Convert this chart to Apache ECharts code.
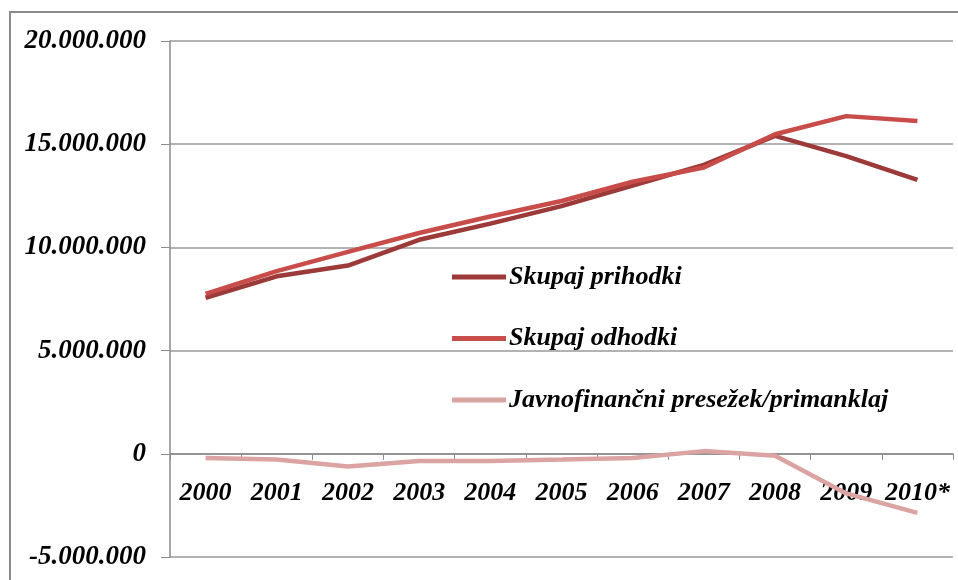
<!DOCTYPE html>
<html>
<head>
<meta charset="utf-8">
<script src="https://cdn.jsdelivr.net/npm/echarts@6/dist/echarts.min.js"></script>
<style>
html,body{margin:0;padding:0;background:#fff;}
#chart{width:958px;height:580px;}
</style>
</head>
<body>
<div id="chart"></div>
<script>
const categories = ['2000','2001','2002','2003','2004','2005','2006','2007','2008','2009','2010*'];
const prihodki = [7560000, 8600000, 9120000, 10370000, 11150000, 12000000, 13000000, 14000000, 15400000, 14420000, 13270000];
const odhodki  = [7750000, 8850000, 9780000, 10700000, 11500000, 12250000, 13180000, 13870000, 15480000, 16360000, 16120000];
const saldo    = [-200000, -280000, -620000, -350000, -350000, -280000, -200000, 130000, -100000, -1920000, -2860000];
const seriesNames = ['Skupaj prihodki', 'Skupaj odhodki', 'Javnofinančni presežek/primanklaj'];

const FONT = '"Liberation Serif", "Times New Roman", serif';
const chart = echarts.init(document.getElementById('chart'));

function fmt(v){
  const neg = v < 0;
  let s = String(Math.abs(v)).replace(/\B(?=(\d{3})+(?!\d))/g, '.');
  return (neg ? '-' : '') + s;
}

chart.setOption({
  animation: false,
  backgroundColor: '#fff',
  graphic: [{
    type: 'rect',
    shape: { x: 10, y: 12, width: 960, height: 590 },
    style: { fill: 'none', stroke: '#8a8a8a', lineWidth: 2 },
    silent: true
  }],
  grid: { left: 170, right: 5, top: 41, bottom: 23, containLabel: false, outerBoundsMode: 'none' },
  legend: {
    orient: 'vertical',
    left: 447,
    top: 259,
    itemGap: 35.5,
    itemWidth: 54,
    itemHeight: 5,
    icon: 'rect',
    data: seriesNames,
    textStyle: { fontFamily: FONT, fontStyle: 'italic', fontWeight: 'bold', fontSize: 26, lineHeight: 24, color: '#000', padding: [0,0,0,-2] }
  },
  xAxis: {
    type: 'category',
    data: categories,
    boundaryGap: true,
    axisLine: { onZero: true, lineStyle: { color: '#8a8a8a', width: 1.5 } },
    axisTick: { show: true, length: 6, inside: false, lineStyle: { color: '#8a8a8a' } },
    axisLabel: { interval: 0, margin: -77, fontFamily: FONT, fontStyle: 'italic', fontWeight: 'bold', fontSize: 26, color: '#000' },
    splitLine: { show: false }
  },
  yAxis: {
    type: 'value',
    min: -5000000,
    max: 20000000,
    interval: 5000000,
    axisLine: { show: true, lineStyle: { color: '#8a8a8a', width: 1.5 } },
    axisTick: { show: true, length: 9, lineStyle: { color: '#8a8a8a' } },
    axisLabel: { margin: 24, formatter: fmt, fontFamily: FONT, fontStyle: 'italic', fontWeight: 'bold', fontSize: 27, color: '#000' },
    splitLine: { show: true, lineStyle: { color: '#9a9a9a', width: 1.5 } }
  },
  series: [
    { name: seriesNames[0], type: 'line', data: prihodki, symbol: 'none', z: 3,
      lineStyle: { color: '#9b3a38', width: 4.5 }, itemStyle: { color: '#9b3a38' } },
    { name: seriesNames[1], type: 'line', data: odhodki, symbol: 'none', z: 4,
      lineStyle: { color: '#c84c4a', width: 4.5 }, itemStyle: { color: '#c84c4a' } },
    { name: seriesNames[2], type: 'line', data: saldo, symbol: 'none', z: 2,
      lineStyle: { color: '#dba3a1', width: 4.5 }, itemStyle: { color: '#dba3a1' } }
  ]
});
</script>
</body>
</html>
